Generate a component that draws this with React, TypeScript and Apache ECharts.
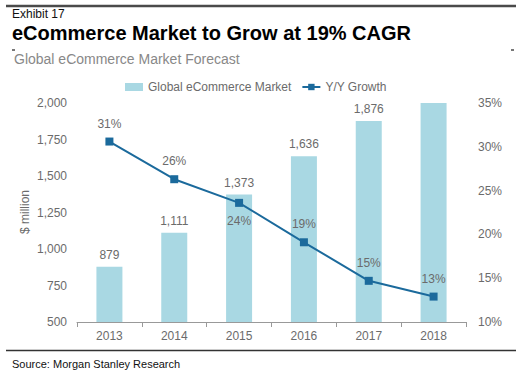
import React, { useEffect, useRef } from "react";
import * as echarts from "echarts";

const years = ["2013", "2014", "2015", "2016", "2017", "2018"];
const marketValues = [879, 1111, 1373, 1636, 1876, 2120];
const growthValues = [30.6, 26.3, 23.6, 19.1, 14.7, 12.9];
const growthLabelPos = ["top", "top", "bottom", "top", "top", "top"];
const leftTicks = [500, 2000, 250];
const rightTicks = [10, 35, 5];

const FONT = "Liberation Sans, Arial, sans-serif";
const GRAY = "#6b6b6b";

export default function App() {
  const ref = useRef<HTMLDivElement>(null);
  useEffect(() => {
    if (!ref.current) return;
    const chart = echarts.init(ref.current, null, { renderer: "svg" });
    chart.setOption({
      animation: false,
      backgroundColor: "#ffffff",
      textStyle: { fontFamily: FONT },
      graphic: {
        elements: [
          { type: "line", shape: { x1: 6, y1: 6, x2: 516, y2: 6 }, style: { stroke: "#4a4a4a", lineWidth: 2.5 } },
          { type: "line", shape: { x1: 12, y1: 50, x2: 15, y2: 50 }, style: { stroke: "#4a4a4a", lineWidth: 1.5 } },
          { type: "line", shape: { x1: 511, y1: 50, x2: 514, y2: 50 }, style: { stroke: "#4a4a4a", lineWidth: 1.5 } },
          { type: "text", left: 12, top: 8, style: { text: "Exhibit 17", font: `12px ${FONT}`, fill: "#111" } },
          { type: "text", left: 12, top: 23, style: { text: "eCommerce Market to Grow at 19% CAGR", font: `bold 20px ${FONT}`, fill: "#000" } },
          { type: "text", left: 14, top: 52, style: { text: "Global eCommerce Market Forecast", font: `14px ${FONT}`, fill: "#888" } },
          { type: "line", shape: { x1: 6, y1: 350.5, x2: 516, y2: 350.5 }, style: { stroke: "#333", lineWidth: 1.5 } },
          { type: "text", left: 12, top: 358, style: { text: "Source: Morgan Stanley Research", font: `11px ${FONT}`, fill: "#111" } },
          {
            type: "text",
            x: 25,
            y: 212,
            rotation: Math.PI / 2,
            style: { text: "$ million", font: `12px ${FONT}`, fill: GRAY, align: "center", verticalAlign: "middle" },
          },
        ],
      },
      legend: {
        top: 76,
        left: 120,
        itemGap: 10,
        itemWidth: 18,
        itemHeight: 8,
        textStyle: { color: GRAY, fontSize: 12, fontFamily: FONT },
        data: [
          { name: "Global eCommerce Market", icon: "rect" },
          { name: "Y/Y Growth" },
        ],
      },
      grid: { left: 77, right: 60, top: 103, bottom: 70 },
      xAxis: {
        type: "category",
        data: years,
        axisLine: { lineStyle: { color: "#999" } },
        axisTick: { show: true, lineStyle: { color: "#999" } },
        axisLabel: { color: GRAY, fontSize: 12, margin: 8 },
      },
      yAxis: [
        {
          type: "value",
          min: leftTicks[0],
          max: leftTicks[1],
          interval: leftTicks[2],
          splitLine: { show: false },
          axisLine: { show: false },
          axisTick: { show: false },
          axisLabel: {
            color: GRAY,
            fontSize: 12,
            margin: 10,
            formatter: (v: number) => v.toLocaleString("en-US"),
          },
        },
        {
          type: "value",
          min: rightTicks[0],
          max: rightTicks[1],
          interval: rightTicks[2],
          splitLine: { show: false },
          axisLine: { show: false },
          axisTick: { show: false },
          axisLabel: { color: GRAY, fontSize: 12, margin: 12, formatter: "{value}%" },
        },
      ],
      series: [
        {
          name: "Global eCommerce Market",
          type: "bar",
          yAxisIndex: 0,
          barWidth: 26,
          clip: true,
          itemStyle: { color: "#a9d8e3" },
          data: marketValues.map((v, i) => ({
            value: v,
            label: { show: i < marketValues.length - 1 },
          })),
          label: {
            position: "top",
            distance: 6,
            color: GRAY,
            fontSize: 12,
            formatter: (p: any) => Number(p.value).toLocaleString("en-US"),
          },
          z: 1,
        },
        {
          name: "Y/Y Growth",
          type: "line",
          yAxisIndex: 1,
          symbol: "rect",
          symbolSize: 8,
          lineStyle: { color: "#1b6a9c", width: 2 },
          itemStyle: { color: "#1b6a9c" },
          data: growthValues.map((v, i) => ({
            value: v,
            label: { position: growthLabelPos[i] },
          })),
          label: {
            show: true,
            distance: 8,
            color: GRAY,
            fontSize: 12,
            formatter: (p: any) => Math.round(p.value) + "%",
          },
          z: 3,
        },
      ],
    });
    return () => chart.dispose();
  }, []);
  return (
    <div
      ref={ref}
      style={{ position: "fixed", left: 0, top: 0, width: 526, height: 392 }}
    />
  );
}
